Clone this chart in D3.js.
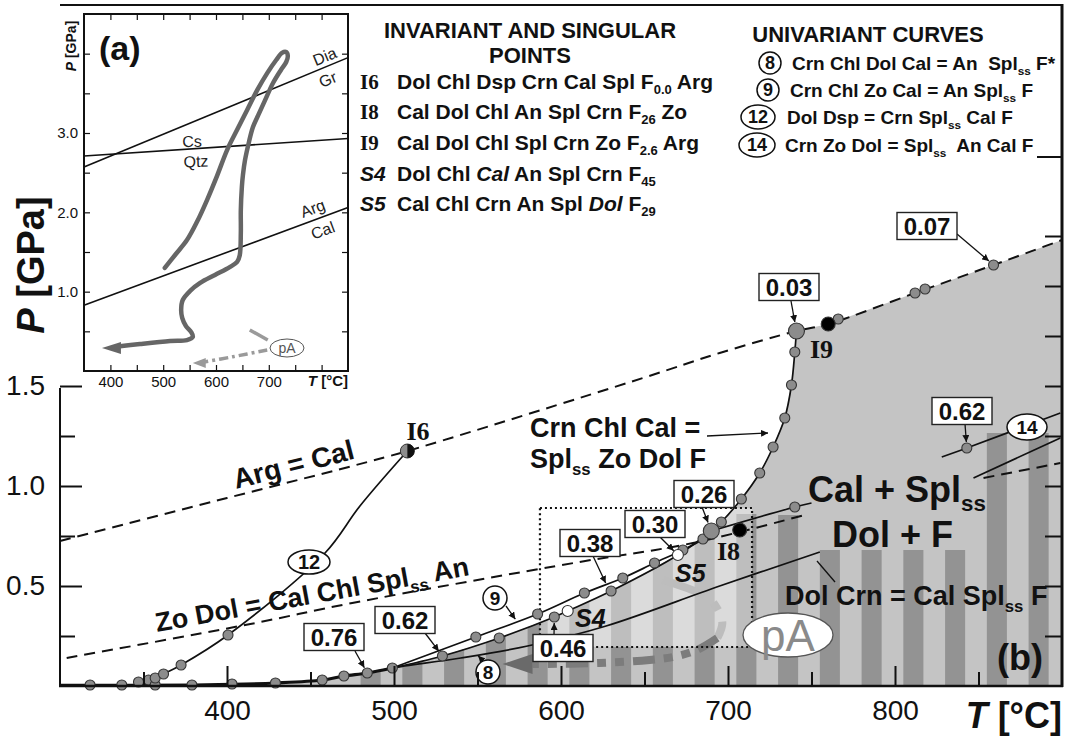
<!DOCTYPE html>
<html>
<head>
<meta charset="utf-8">
<script src="https://cdnjs.cloudflare.com/ajax/libs/d3/7.8.5/d3.min.js"></script>
<style>
body{margin:0;background:#fff;}
svg text{font-family:"Liberation Sans",Arial,Helvetica,sans-serif;font-weight:bold;fill:#111;}
svg .axis text{font-weight:normal;}
svg text.serif{font-family:"Liberation Serif","Times New Roman",serif;}
</style>
</head>
<body>
<svg id="chart" width="1071" height="736"></svg>
<script>
// ---------- data (T in °C, P in GPa) ----------
var tMajor = [400, 500, 600, 700, 800],
    tMinor = [350, 450, 550, 650, 750, 850],
    pMajor = [0.5, 1.0, 1.5],
    pMinor = [0.25, 0.75, 1.25],
    pRight = [0.25, 0.5, 0.75, 1.0, 1.25, 1.5, 1.75, 2.0, 2.25];

var argCal = [[300,0.725],[400,0.94],[475,1.10],[508,1.175],[649,1.54],[695,1.665],[741,1.775],[760,1.81],[812,1.965],[859,2.105],[900,2.23]];
var zoDol = [[304,0.14],[414,0.31],[475,0.415],[611,0.62],[679,0.715],[748,0.86]];
var bottomCurve = [[300,0.003],[380,0.005],[403,0.008],[429,0.015],[457,0.03],[470,0.05],[484,0.065],[499,0.09]];
var curve9 = [[499,0.09],[549,0.245],[586,0.36],[614,0.465],[637,0.54],[656,0.615],[673,0.68],[685,0.735],[690,0.775]];
var curveS = [[499,0.09],[529,0.15],[563,0.24],[596,0.345],[604,0.375],[630,0.475],[670,0.655],[690,0.775]];
var steep = [[690,0.775],[696,0.82],[708,0.935],[719,1.065],[727,1.195],[734,1.34],[738,1.505],[740,1.67],[741,1.775]];
var curve8 = [[484,0.065],[499,0.09],[540,0.14],[580,0.2],[627,0.3],[695,0.5],[755,0.67]];
var i8Line = [[690,0.775],[740,0.895],[750,0.915]];
var curve12 = [[348,0.015],[357,0.04],[362,0.06],[372.5,0.105],[400.6,0.255],[458.7,0.665],[479.6,0.9],[508,1.175]];
var curve14 = [[828,1.145],[843,1.19],[899,1.365]];
var rightSolid = [[847,1.04],[899,1.24]];
var rightDashed = [[853,1.04],[899,1.115]];

var grayDots = [[318,0.005],[337,0.005],[347,0.02],[353,0.03],[357,0.005],[379,0.005],[403,0.01],[429,0.015],[457,0.03],[470,0.05],[484,0.065],[499,0.09],
  [357,0.04],[362,0.06],[372.5,0.105],[400.6,0.255],
  [549,0.245],[586,0.36],[614,0.465],[637,0.54],[656,0.615],[673,0.68],[685,0.735],
  [529,0.15],[563,0.24],[596,0.345],[630,0.475],
  [696,0.82],[708,0.935],[719,1.065],[727,1.195],[734,1.34],[738,1.505],[740,1.67],
  [766,1.835],[812,1.965],[818,1.985],[859,2.105],[740,0.895],[843,1.19]];
var bigDots = [[690,0.775],[741,1.775]];
var openDots = [[604,0.375],[670,0.655]];
var blackDots = [[707,0.78],[760,1.81]];
var halfDot = [508,1.175];

var barStarts = [480,505,530,555,580,605,630,655,680,705,730,755,780,805,830,855,880];
var barTops   = [1.5,1.5,1.5,1.5,1.5,1.5,1.5,1.5,1.5,0.86,0.855,0.68,0.68,0.68,0.68,1.265,1.265];
var boxT = [587.4, 714.4], boxP = [0.195, 0.89];

var pAUpper = [[661,0.53],[687.4,0.445],[693,0.395],[696.6,0.315],[693.6,0.24]];
var pALower = [[693.6,0.24],[681.4,0.18],[667,0.145],[653,0.13],[623,0.115],[583,0.11]];
var pATip = [565,0.11];

var vLabels = [
  {v:"0.76", T:484, P:0.065}, {v:"0.62", T:529, P:0.15}, {v:"0.46", T:596, P:0.345},
  {v:"0.38", T:627, P:0.51},  {v:"0.30", T:670, P:0.655}, {v:"0.26", T:690, P:0.775},
  {v:"0.03", T:741, P:1.775}, {v:"0.07", T:859, P:2.105}, {v:"0.62", T:843, P:1.19}
];

// inset (a)
var iTTicks = [400,450,500,550,600,650,700,750,800],
    iTLabels = [400,500,600,700],
    iPTicks = [0.5,1,1.5,2,2.5,3,3.5,4],
    iPLabels = [1,2,3];
var iDiaGr = [[350,2.57],[850,3.95]];
var iCsQtz = [[350,2.71],[850,2.93]];
var iArgCal = [[350,0.83],[850,2.06]];
var iPath = [[503,1.30],[524,1.475],[545,1.65],[564,1.88],[583,2.155],[602,2.46],[621,2.785],[640,3.04],[659,3.29],[678,3.54],[697,3.755],[714,3.92],[725,4.01],[733,4.02],[736,3.97],[733,3.895],[723,3.795],[708,3.63],[693,3.415],[680,3.225],[670,3.075],[662,2.875],[655,2.66],[651,2.47],[649,2.32],[647,2.03],[647,1.74],[645,1.46],[640,1.375],[626,1.31],[598,1.21],[570,1.11],[551,1.01],[537,0.895],[534,0.77],[536,0.67],[543,0.567],[553,0.49],[556,0.43],[545,0.39],[513,0.378],[456,0.34],[410,0.305]];
var iPathTip = [384,0.29];
var iPAUpper = [[664,0.517],[698,0.39]];
var iPALower = [[697,0.265],[632,0.18],[575,0.11]];
var iPATip = [556,0.1];

var invariantLines = [
  {id:"I6", serif:true, txt:"Dol Chl Dsp Crn Cal Spl F_{0.0} Arg"},
  {id:"I8", serif:true, txt:"Cal Dol Chl An Spl Crn F_{26} Zo"},
  {id:"I9", serif:true, txt:"Cal Dol Chl Spl Crn Zo F_{2.6} Arg"},
  {id:"S4", serif:false, txt:"Dol Chl *Cal* An Spl Crn F_{45}"},
  {id:"S5", serif:false, txt:"Cal Chl Crn An Spl *Dol* F_{29}"}
];
var univariantLines = [
  {id:"8", txt:"Crn Chl Dol Cal = An  Spl_{ss} F*"},
  {id:"9", txt:"Crn Chl Zo Cal = An Spl_{ss} F"},
  {id:"12", txt:"Dol Dsp = Crn Spl_{ss} Cal F"},
  {id:"14", txt:"Crn Zo Dol = Spl_{ss}  An Cal F"}
];

// ---------- setup ----------
var svg = d3.select("#chart");
var x = d3.scaleLinear().domain([300, 900]).range([60, 1062]);
var y = d3.scaleLinear().domain([0, 1.5]).range([686, 386]);
var xi = d3.scaleLinear().domain([350, 850]).range([84, 348]);
var yi = d3.scaleLinear().domain([0, 4.5]).range([371, 14]);

var lin = d3.line().x(function(d){return x(d[0]);}).y(function(d){return y(d[1]);});
var smooth = d3.line().x(function(d){return x(d[0]);}).y(function(d){return y(d[1]);}).curve(d3.curveCatmullRom.alpha(0.5));
var iSmooth = d3.line().x(function(d){return xi(d[0]);}).y(function(d){return yi(d[1]);}).curve(d3.curveCatmullRom.alpha(0.5));
var iLin = d3.line().x(function(d){return xi(d[0]);}).y(function(d){return yi(d[1]);});

// rich text: _{sub} and *italic*
function rich(t, str, size) {
  var parts = str.split(/(_\{[^}]*\}|\*[^*]*\*)/).filter(function(s){return s.length;});
  var sub = false, shift = size * 0.26;
  t.style("white-space", "pre");
  parts.forEach(function(p){
    var ts = t.append("tspan");
    if (p.indexOf("_{") === 0) {
      ts.text(p.slice(2, -1)).attr("font-size", size * 0.62).attr("dy", shift);
      sub = true;
    } else {
      var it = p[0] === "*";
      ts.text(it ? p.slice(1, -1) : p);
      if (it) ts.attr("font-style", "italic");
      if (sub) { ts.attr("dy", -shift); sub = false; }
    }
  });
  return t;
}
function label(g, str, px, py, size, anchor) {
  var t = g.append("text").attr("x", px).attr("y", py).attr("font-size", size)
    .attr("text-anchor", anchor || "start");
  return rich(t, str, size);
}

var defs = svg.append("defs");
defs.append("marker").attr("id", "arr").attr("viewBox", "0 0 10 10")
  .attr("refX", 10).attr("refY", 5).attr("markerWidth", 7).attr("markerHeight", 7)
  .attr("markerUnits", "userSpaceOnUse").attr("orient", "auto")
  .append("path").attr("d", "M0,0L10,5L0,10z").attr("fill", "#111");

// gray field polygon
var grayPoly = [[429,0]].concat(bottomCurve.filter(function(d){return d[0] >= 429;}),
  curveS.slice(1), steep.slice(1), argCal.filter(function(d){return d[0] > 741;}), [[900,0]]);
defs.append("clipPath").attr("id", "grayClip").append("path").attr("d", lin(grayPoly) + "Z");

var plot = svg.append("g");
plot.append("path").attr("d", lin(grayPoly) + "Z").attr("fill", "#c4c4c4");

// stripes
plot.append("g").attr("clip-path", "url(#grayClip)")
  .selectAll("rect").data(barStarts).enter().append("rect")
  .attr("x", function(d){return x(d);})
  .attr("width", function(d){return x(d + 12) - x(d);})
  .attr("y", function(d, i){return y(barTops[i]);})
  .attr("height", function(d, i){return y(0) - y(barTops[i]);})
  .attr("fill", "#939393");

// lighter field inside the dotted box
plot.append("rect").attr("clip-path", "url(#grayClip)")
  .attr("x", x(boxT[0])).attr("y", y(boxP[1]))
  .attr("width", x(boxT[1]) - x(boxT[0])).attr("height", y(boxP[0]) - y(boxP[1]))
  .attr("fill", "#fff").attr("opacity", 0.4);

// pA path (main)
plot.append("path").attr("d", smooth(pAUpper)).attr("fill", "none")
  .attr("stroke", "#bdbdbd").attr("stroke-width", 8).attr("stroke-dasharray", "44 12 9 12");
plot.append("path").attr("d", smooth(pALower)).attr("fill", "none")
  .attr("stroke", "#7c7c7c").attr("stroke-width", 8).attr("stroke-dasharray", "22 9 9 9 9 9");
(function(){
  var tx = x(pATip[0]), ty = y(pATip[1]);
  plot.append("path").attr("d", "M" + tx + "," + ty + "L" + (tx + 30) + "," + (ty - 10) + "L" + (tx + 30) + "," + (ty + 10) + "Z")
    .attr("fill", "#6a6a6a");
})();

// curves
var dashed = [argCal, zoDol, rightDashed];
dashed.forEach(function(c){
  plot.append("path").attr("d", smooth(c)).attr("fill", "none").attr("stroke", "#111")
    .attr("stroke-width", 2).attr("stroke-dasharray", "11 7");
});
plot.append("path").attr("d", smooth(bottomCurve)).attr("fill", "none").attr("stroke", "#111").attr("stroke-width", 3.2);
[curve12, curve9, curveS, curve8, steep, i8Line, curve14, rightSolid].forEach(function(c){
  plot.append("path").attr("d", smooth(c)).attr("fill", "none").attr("stroke", "#111").attr("stroke-width", 1.7);
});

// dotted box
plot.append("rect").attr("x", x(boxT[0])).attr("y", y(boxP[1]))
  .attr("width", x(boxT[1]) - x(boxT[0])).attr("height", y(boxP[0]) - y(boxP[1]))
  .attr("fill", "none").attr("stroke", "#111").attr("stroke-width", 2.2).attr("stroke-dasharray", "2 3");

// dots
function dots(data, r, fill) {
  plot.append("g").selectAll("circle").data(data).enter().append("circle")
    .attr("cx", function(d){return x(d[0]);}).attr("cy", function(d){return y(d[1]);})
    .attr("r", r).attr("fill", fill).attr("stroke", "#333").attr("stroke-width", 1.1);
}
dots(grayDots, 5, "#8c8c8c");
dots(bigDots, 8, "#8c8c8c");
dots(openDots, 5.5, "#fff");
dots(blackDots, 7, "#000");
(function(){
  var cx = x(halfDot[0]), cy = y(halfDot[1]), r = 7;
  plot.append("circle").attr("cx", cx).attr("cy", cy).attr("r", r).attr("fill", "#8c8c8c").attr("stroke", "#333");
  plot.append("path").attr("d", "M" + cx + "," + (cy - r) + "A" + r + "," + r + " 0 0 1 " + cx + "," + (cy + r) + "Z").attr("fill", "#111");
})();

// leaders
function leader(g, x0, y0, x1, y1, shrink, arrow) {
  var dx = x1 - x0, dy = y1 - y0, L = Math.sqrt(dx*dx + dy*dy), k = (L - shrink) / L;
  var l = g.append("line").attr("x1", x0).attr("y1", y0).attr("x2", x0 + dx*k).attr("y2", y0 + dy*k)
    .attr("stroke", "#111").attr("stroke-width", 1.3);
  if (arrow) l.attr("marker-end", "url(#arr)");
}

// value boxes
var vBoxes = [[334,637,355,651],[405,620,425,633],[563,648,554,636],[590,543,593,556],[655,524,660,537],[704,494,702,507],[789,287,791,301],[927,226,957,234],[962,411,965,424]];
var ann = svg.append("g");
vLabels.forEach(function(d, i){
  var b = vBoxes[i];
  leader(ann, b[2], b[3], x(d.T), y(d.P), d.v === "0.38" ? 1 : (i === 5 || i === 6 ? 9 : 6), true);
  ann.append("rect").attr("x", b[0] - 30).attr("y", b[1] - 13.5).attr("width", 60).attr("height", 27)
    .attr("fill", "#fff").attr("stroke", "#222").attr("stroke-width", 1.4);
  ann.append("text").attr("x", b[0]).attr("y", b[1] + 9).attr("text-anchor", "middle")
    .attr("font-size", 24).text(d.v);
});

// curve number tags
function tag(g, txt, cx, cy, rx, ry, size) {
  g.append("ellipse").attr("cx", cx).attr("cy", cy).attr("rx", rx).attr("ry", ry)
    .attr("fill", "#fff").attr("stroke", "#111").attr("stroke-width", 1.5);
  g.append("text").attr("x", cx).attr("y", cy + size*0.36).attr("text-anchor", "middle")
    .attr("font-size", size).attr("font-weight", "bold").text(txt);
}
leader(ann, 506, 606, x(573), y(0.33), 1, true);
leader(ann, 483, 661, x(550), y(0.155), 1, true);
tag(ann, "12", 309, 562, 21, 12, 20);
tag(ann, "14", 1027, 427, 20, 13, 19);
tag(ann, "9", 495, 598, 12, 12, 19);
tag(ann, "8", 488, 672, 12, 12, 19);

// text labels in the field
label(ann, "Arg = Cal", 236, 489, 28).attr("transform", "rotate(-14.3 236 489)");
label(ann, "Zo Dol = Cal Chl Spl_{ss} An", 157, 632, 27).attr("transform", "rotate(-10.3 157 632)");
label(ann, "Crn Chl Cal =", 530, 437, 27);
label(ann, "Spl_{ss} Zo Dol F", 530, 468, 27);
leader(ann, 707, 436, 768, 433, 0, true);
label(ann, "Cal + Spl_{ss}", 808, 502, 36);
label(ann, "Dol + F", 832, 547, 36);
label(ann, "Dol Crn = Cal Spl_{ss} F", 785, 605, 27);
leader(ann, 835, 582, 817, 561, 0, false);
label(ann, "(b)", 997, 670, 36);
ann.append("text").attr("class", "serif").attr("x", 418).attr("y", 440).attr("text-anchor", "middle").attr("font-size", 26).text("I6");
ann.append("text").attr("class", "serif").attr("x", 717).attr("y", 560).attr("font-size", 26).text("I8");
ann.append("text").attr("class", "serif").attr("x", 810).attr("y", 358).attr("font-size", 26).text("I9");
ann.append("text").attr("x", 575).attr("y", 627).attr("font-size", 25).attr("font-style", "italic").text("S4");
ann.append("text").attr("x", 675).attr("y", 582).attr("font-size", 25).attr("font-style", "italic").text("S5");

// pA ellipse
ann.append("ellipse").attr("cx", 788).attr("cy", 635).attr("rx", 45).attr("ry", 22)
  .attr("fill", "#fff").attr("stroke", "#555").attr("stroke-width", 1.3);
ann.append("text").attr("x", 788).attr("y", 651).attr("text-anchor", "middle").attr("font-size", 44)
  .attr("font-weight", "normal").style("font-weight", "normal").style("fill", "#8a8a8a").text("pA");

// ---------- axes ----------
function styleAxis(g, size) {
  g.attr("class", "axis").attr("font-size", size).attr("font-family", "Liberation Sans, Arial, sans-serif");
  g.select(".domain").remove();
  g.selectAll(".tick line").attr("stroke", "#111").attr("stroke-width", 2);
  g.selectAll(".tick text").attr("fill", "#111");
}
styleAxis(svg.append("g").attr("transform", "translate(0,686)")
  .call(d3.axisBottom(x).tickValues(tMajor).tickSizeInner(-20).tickSizeOuter(0).tickPadding(14).tickFormat(d3.format("d"))), 28);
styleAxis(svg.append("g").attr("transform", "translate(0,686)")
  .call(d3.axisBottom(x).tickValues(tMinor).tickSizeInner(-14).tickSizeOuter(0).tickFormat("")), 28);
styleAxis(svg.append("g").attr("transform", "translate(60,0)")
  .call(d3.axisLeft(y).tickValues(pMajor).tickSizeInner(-22).tickSizeOuter(0).tickPadding(15).tickFormat(d3.format(".1f"))), 28);
styleAxis(svg.append("g").attr("transform", "translate(60,0)")
  .call(d3.axisLeft(y).tickValues(pMinor).tickSizeInner(-15).tickSizeOuter(0).tickFormat("")), 28);
styleAxis(svg.append("g").attr("transform", "translate(1062,0)")
  .call(d3.axisRight(y).tickValues(pRight).tickSizeInner(-17).tickSizeOuter(0).tickFormat("")), 28);

// frame
var frame = svg.append("g").attr("stroke", "#111").attr("fill", "none");
frame.append("line").attr("x1", 60).attr("x2", 1063).attr("y1", 5).attr("y2", 5).attr("stroke-width", 2);
frame.append("line").attr("x1", 1062).attr("x2", 1062).attr("y1", 4).attr("y2", 687).attr("stroke-width", 3);
frame.append("line").attr("x1", 59).attr("x2", 1063).attr("y1", 686).attr("y2", 686).attr("stroke-width", 2.5);
frame.append("line").attr("x1", 60).attr("x2", 60).attr("y1", 388).attr("y2", 687).attr("stroke-width", 2);
frame.append("line").attr("x1", 1037).attr("x2", 1062).attr("y1", 157).attr("y2", 157).attr("stroke-width", 2);

label(svg, "*T* [°C]", 1062, 728, 36, "end");
label(svg, "*P* [GPa]", 0, 0, 38, "middle").attr("transform", "translate(44,265) rotate(-90)");

// ---------- inset (a) ----------
var ins = svg.append("g");
ins.append("rect").attr("x", xi(350)).attr("y", yi(4.5)).attr("width", xi(850) - xi(350)).attr("height", yi(0) - yi(4.5))
  .attr("fill", "#fff").attr("stroke", "#111").attr("stroke-width", 2);
function iAxis(g, size) {
  styleAxis(g, size);
  g.selectAll(".tick line").attr("stroke-width", 1.2);
  g.selectAll(".tick text").attr("fill", "#333");
}
iAxis(ins.append("g").attr("transform", "translate(0,371)")
  .call(d3.axisBottom(xi).tickValues(iTTicks).tickSizeInner(-6).tickSizeOuter(0).tickPadding(5)
  .tickFormat(function(d){return iTLabels.indexOf(d) >= 0 ? d : "";})), 15);
iAxis(ins.append("g").attr("transform", "translate(0,14)")
  .call(d3.axisTop(xi).tickValues(iTTicks).tickSizeInner(-6).tickSizeOuter(0).tickFormat("")), 15);
iAxis(ins.append("g").attr("transform", "translate(84,0)")
  .call(d3.axisLeft(yi).tickValues(iPTicks).tickSizeInner(-6).tickSizeOuter(0).tickPadding(6)
  .tickFormat(function(d){return iPLabels.indexOf(d) >= 0 ? d3.format(".1f")(d) : "";})), 15);
iAxis(ins.append("g").attr("transform", "translate(348,0)")
  .call(d3.axisRight(yi).tickValues(iPTicks).tickSizeInner(-6).tickSizeOuter(0).tickFormat("")), 15);

[iDiaGr, iCsQtz, iArgCal].forEach(function(c){
  ins.append("path").attr("d", iLin(c)).attr("stroke", "#111").attr("stroke-width", 1.6).attr("fill", "none");
});
function iLab(txt, cx, cy, ang) {
  ins.append("text").attr("x", cx).attr("y", cy + 5).attr("text-anchor", "middle").attr("font-size", 16)
    .style("font-weight", "normal").style("fill", "#222")
    .attr("transform", "rotate(" + ang + " " + cx + " " + cy + ")").text(txt);
}
iLab("Dia", 325, 57, -22.7); iLab("Gr", 328, 80, -22.7);
iLab("Cs", 192, 142, -2); iLab("Qtz", 196, 162, -2);
iLab("Arg", 313, 209, -20.4); iLab("Cal", 323, 231, -20.4);

// P-T path of the inset
ins.append("path").attr("d", iSmooth(iPath)).attr("fill", "none").attr("stroke", "#666")
  .attr("stroke-width", 4.5).attr("stroke-linejoin", "round").attr("stroke-linecap", "round");
(function(){
  var tx = xi(iPathTip[0]), ty = yi(iPathTip[1]);
  ins.append("path").attr("d", "M" + tx + "," + ty + "L" + (tx + 19) + "," + (ty - 6) + "L" + (tx + 19) + "," + (ty + 6) + "Z").attr("fill", "#666");
})();
ins.append("path").attr("d", iLin(iPAUpper)).attr("fill", "none").attr("stroke", "#9a9a9a").attr("stroke-width", 3.5);
ins.append("path").attr("d", iSmooth(iPALower)).attr("fill", "none").attr("stroke", "#9a9a9a")
  .attr("stroke-width", 3.5).attr("stroke-dasharray", "9 4 3 4");
(function(){
  var tx = xi(iPATip[0]), ty = yi(iPATip[1]);
  ins.append("path").attr("d", "M" + tx + "," + ty + "L" + (tx + 13) + "," + (ty - 5) + "L" + (tx + 13) + "," + (ty + 5) + "Z").attr("fill", "#9a9a9a");
})();
ins.append("ellipse").attr("cx", 287).attr("cy", 348).attr("rx", 17).attr("ry", 9)
  .attr("fill", "#fff").attr("stroke", "#555").attr("stroke-width", 1);
ins.append("text").attr("x", 287).attr("y", 353).attr("text-anchor", "middle").attr("font-size", 14)
  .style("font-weight", "normal").style("fill", "#555").text("pA");
label(ins, "(a)", 99, 60, 34);
label(ins, "*T* [°C]", 348, 386, 15, "end");
label(ins, "*P* [GPa]", 0, 0, 14, "middle").attr("transform", "translate(76,46) rotate(-90)");

// ---------- legends ----------
var leg = svg.append("g");
leg.append("text").attr("x", 530).attr("y", 38).attr("text-anchor", "middle").attr("font-size", 22).text("INVARIANT AND SINGULAR");
leg.append("text").attr("x", 530).attr("y", 63).attr("text-anchor", "middle").attr("font-size", 22).text("POINTS");
var invY = [89, 119, 150, 181, 211];
invariantLines.forEach(function(d, i){
  var t = leg.append("text").attr("x", 360).attr("y", invY[i]).attr("font-size", 21).text(d.id);
  if (d.serif) t.attr("class", "serif"); else t.attr("font-style", "italic");
  label(leg, d.txt, 397, invY[i], 21);
});
leg.append("text").attr("x", 868).attr("y", 42).attr("text-anchor", "middle").attr("font-size", 22).text("UNIVARIANT CURVES");
var uniY = [63, 90, 117, 145], uniX = [770, 768, 758, 757], uniR = [11, 11, 17, 18], uniT = [792, 790, 787, 785];
univariantLines.forEach(function(d, i){
  tag(leg, d.id, uniX[i], uniY[i], uniR[i], i < 2 ? 11 : 12, 18);
  label(leg, d.txt, uniT[i], uniY[i] + 7, 19);
});
</script>
</body>
</html>
